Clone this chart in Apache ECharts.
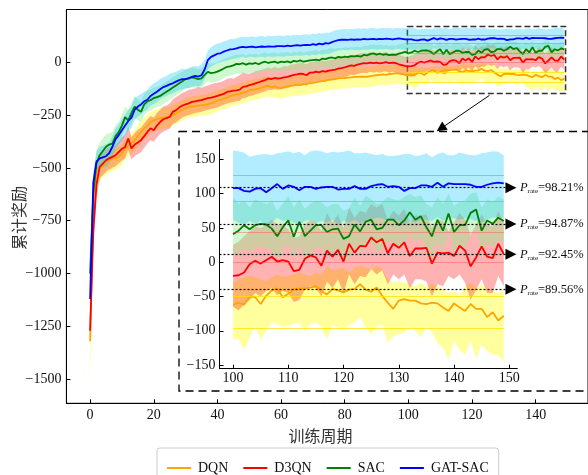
<!DOCTYPE html>
<html>
<head>
<meta charset="utf-8">
<script src="https://cdn.jsdelivr.net/npm/echarts@6/dist/echarts.min.js"></script>
<style>
  html, body { margin: 0; padding: 0; background: #fff; }
  #chart { width: 588px; height: 475px; }
</style>
</head>
<body>
<div id="chart"></div>
<script>
// Cumulative reward per training episode (episodes 0..149), mean and band edges.
const seriesNames = ['DQN', 'D3QN', 'SAC', 'GAT-SAC'];

const dqnMean = [-1320,-680,-520,-502,-490,-470,-464,-458,-452,-448,
-430,-408,-395,-380,-369,-350,-330,-313,-300,-283,
-275,-270,-265,-262,-260,-259,-250,-242,-235,-225,
-218,-211,-210,-208,-206,-204,-202,-200,-195,-190,
-180,-178,-172,-168,-160,-156,-152,-150,-145,-140,
-133,-130,-128,-125,-120,-115,-112,-118,-115,-120,
-123,-118,-115,-112,-110,-108,-109,-105,-102,-100,
-98,-96,-92,-90,-88,-84,-82,-80,-77,-76,
-75,-73,-72,-70,-70,-69,-68,-70,-66,-64,
-62,-60,-58,-60,-56,-55,-52,-54,-56,-60,
-62,-59,-62,-50,-51,-61,-49,-41,-38,-51,
-46,-39,-38,-38,-37,-35,-42,-47,-39,-41,
-44,-40,-39,-32,-40,-43,-37,-49,-59,-68,
-56,-54,-56,-56,-60,-61,-59,-60,-66,-71,
-60,-66,-71,-61,-68,-68,-80,-73,-85,-78];
const dqnHigh = [-1250,-620,-470,-455,-445,-428,-420,-412,-405,-400,
-385,-365,-350,-335,-322,-300,-280,-265,-250,-235,
-228,-222,-218,-215,-212,-210,-200,-195,-188,-178,
-170,-165,-162,-160,-158,-155,-152,-150,-146,-140,
-132,-128,-125,-120,-112,-108,-105,-100,-96,-92,
-86,-82,-80,-78,-72,-68,-65,-70,-68,-72,
-75,-70,-68,-65,-62,-60,-62,-58,-55,-52,
-50,-48,-45,-42,-40,-36,-35,-32,-30,-28,
-28,-25,-25,-22,-22,-20,-20,-22,-18,-16,
-15,-14,-12,-14,-12,-14,-10,-12,-15,-20,
-30,-25,-22,-20,-22,-25,-28,-22,-18,-22,
-20,-18,-15,-18,-20,-15,-18,-5,-12,-10,
-8,-15,-8,-5,-8,-10,-5,-10,-25,-30,
-28,-30,-32,-35,-30,-35,-32,-35,-40,-45,
-42,-48,-35,-30,-38,-32,-40,-42,-45,-40];
const dqnLow = [-1534,-760,-580,-560,-548,-530,-522,-515,-508,-502,
-485,-462,-448,-432,-420,-402,-382,-365,-352,-335,
-328,-322,-318,-315,-312,-310,-300,-292,-285,-275,
-268,-262,-260,-258,-256,-254,-252,-250,-245,-240,
-230,-228,-222,-218,-210,-206,-202,-200,-195,-190,
-183,-180,-178,-175,-170,-165,-162,-168,-165,-170,
-173,-168,-165,-162,-160,-158,-159,-155,-152,-150,
-148,-146,-142,-140,-138,-134,-132,-130,-127,-126,
-125,-123,-122,-120,-120,-119,-118,-120,-116,-114,
-112,-110,-108,-110,-106,-105,-102,-104,-106,-110,
-112,-112,-128,-110,-94,-113,-100,-88,-90,-95,
-92,-90,-88,-100,-90,-88,-95,-112,-92,-95,
-98,-92,-88,-80,-95,-105,-95,-90,-118,-108,
-105,-102,-95,-100,-110,-95,-102,-118,-125,-142,
-115,-128,-135,-115,-140,-120,-130,-135,-136,-144];

const d3qnMean = [-1270,-800,-580,-495,-480,-464,-455,-448,-440,-425,
-410,-401,-361,-408,-390,-380,-369,-350,-330,-313,
-322,-300,-283,-270,-265,-259,-235,-227,-215,-205,
-200,-195,-188,-185,-182,-180,-175,-170,-168,-164,
-160,-155,-150,-141,-138,-135,-133,-130,-117,-115,
-109,-105,-100,-95,-90,-85,-77,-80,-75,-78,
-76,-72,-70,-65,-60,-58,-54,-56,-62,-50,
-50,-45,-48,-42,-45,-40,-38,-35,-30,-28,
-25,-20,-15,-18,-12,-8,-5,-6,-2,-5,
-2,-6,-3,0,-5,-2,-4,-10,-14,-18,
-20,-19,-15,-3,2,-2,3,8,1,3,
1,-13,-11,5,10,7,-5,17,8,18,
1,27,14,24,23,36,29,34,13,27,
21,29,9,20,20,21,-2,14,13,14,
9,24,17,-6,7,23,8,6,27,12];
const d3qnHigh = [-1200,-720,-510,-440,-425,-410,-400,-395,-390,-375,
-355,-345,-305,-355,-335,-320,-310,-290,-270,-255,
-262,-240,-225,-210,-205,-195,-175,-165,-155,-145,
-140,-130,-128,-125,-118,-122,-115,-110,-105,-100,
-98,-95,-88,-80,-75,-78,-70,-62,-48,-55,
-55,-50,-42,-40,-35,-30,-25,-30,-22,-28,
-25,-18,-20,-12,-10,-8,-2,-5,-10,0,
0,5,2,8,5,10,12,15,20,22,
25,30,35,30,38,42,45,42,48,45,
45,40,44,48,40,44,42,36,30,25,
25,30,38,45,52,50,55,62,55,55,
48,35,38,55,62,58,45,72,58,70,
50,80,65,75,72,85,80,85,62,75,
68,78,58,68,68,70,50,62,60,45,
58,72,62,40,55,70,55,52,75,58];
const d3qnLow = [-1330,-880,-650,-550,-535,-518,-508,-500,-492,-478,
-465,-455,-415,-460,-445,-435,-425,-405,-385,-368,
-378,-355,-340,-328,-322,-315,-292,-285,-272,-262,
-255,-250,-245,-240,-238,-235,-230,-225,-222,-218,
-215,-208,-202,-195,-192,-188,-185,-182,-170,-168,
-160,-158,-152,-148,-142,-138,-130,-132,-128,-130,
-128,-125,-122,-118,-112,-110,-106,-108,-112,-100,
-98,-92,-95,-88,-92,-85,-82,-80,-76,-72,
-70,-65,-60,-62,-56,-52,-50,-52,-46,-50,
-46,-50,-46,-44,-50,-46,-48,-55,-58,-62,
-65,-70,-62,-55,-45,-50,-42,-38,-48,-42,
-45,-58,-55,-40,-35,-38,-50,-28,-38,-25,
-45,-18,-32,-20,-22,-10,-18,-12,-32,-18,
-25,-18,-38,-25,-25,-28,-50,-32,-35,-20,
-25,-18,-30,-55,-40,-25,-45,-45,-20,-35];

const sacMean = [-1000,-620,-480,-440,-420,-400,-390,-385,-350,-330,
-300,-260,-275,-240,-211,-225,-235,-200,-185,-180,
-170,-165,-160,-150,-140,-130,-120,-110,-100,-90,
-80,-78,-72,-76,-80,-77,-60,-46,-52,-50,
-45,-38,-30,-22,-20,-15,-8,-10,-5,-12,
-6,-8,-4,-10,-2,2,-4,0,2,-3,
2,0,4,-2,6,3,8,2,5,8,
10,12,8,17,14,20,22,18,25,22,
26,24,28,27,30,26,34,32,38,41,
36,40,35,38,33,36,34,40,44,49,
41,46,54,48,54,56,55,49,38,51,
61,37,59,38,46,54,54,44,48,49,
34,38,55,45,59,62,48,50,62,62,
54,61,73,62,67,51,38,62,46,71,
44,54,54,72,77,46,61,56,65,60];
const sacHigh = [-900,-560,-420,-380,-360,-340,-335,-330,-300,-280,
-250,-210,-225,-190,-160,-175,-185,-150,-135,-130,
-120,-118,-112,-100,-92,-82,-72,-62,-52,-45,
-35,-32,-25,-30,-35,-30,-15,-2,-8,-5,
0,8,15,22,25,30,36,34,40,32,
40,36,42,34,42,46,40,45,46,40,
46,44,48,42,50,46,52,46,48,52,
54,56,52,60,58,64,66,62,68,65,
70,68,72,70,74,70,78,75,82,85,
80,84,78,82,76,80,78,84,88,92,
95,85,90,80,92,88,85,90,75,85,
97,80,92,78,85,90,88,80,85,85,
75,78,95,82,97,92,85,88,95,92,
90,95,100,95,98,85,80,95,85,100,
82,88,90,100,102,80,92,88,95,92];
const sacLow = [-1080,-680,-540,-500,-480,-460,-445,-440,-400,-380,
-350,-310,-325,-290,-262,-275,-285,-250,-235,-230,
-220,-212,-208,-198,-188,-178,-168,-158,-148,-138,
-125,-122,-118,-122,-125,-122,-105,-92,-98,-95,
-90,-84,-75,-66,-64,-60,-52,-55,-50,-55,
-50,-52,-48,-54,-46,-42,-48,-44,-42,-46,
-42,-44,-40,-46,-38,-42,-36,-42,-40,-36,
-34,-32,-36,-28,-30,-24,-22,-26,-18,-22,
-18,-20,-16,-18,-14,-18,-10,-12,-6,-2,
-8,-4,-10,-6,-12,-8,-10,-4,0,5,
10,12,20,15,20,22,22,15,5,18,
28,5,25,5,12,20,22,10,15,15,
2,5,22,12,26,30,15,18,30,30,
20,28,40,30,35,18,5,30,12,48,
10,20,22,40,45,12,28,22,32,28];

const gatsacMean = [-1120,-570,-470,-455,-450,-445,-430,-400,-365,-345,
-322,-300,-278,-262,-225,-210,-200,-185,-178,-160,
-150,-140,-128,-118,-112,-105,-100,-92,-85,-80,
-80,-75,-70,-65,-68,-62,-35,10,25,32,
40,42,50,55,60,62,65,70,72,70,
72,73,70,72,74,72,75,73,74,76,
76,75,78,76,78,80,78,80,82,80,
85,82,88,84,90,88,95,100,104,106,
107,105,108,106,108,107,110,108,109,110,
108,110,109,111,110,108,110,112,110,108,
108,108,104,103,107,108,102,108,114,107,
112,110,105,110,110,107,109,110,110,106,
107,107,111,107,107,111,113,114,110,111,
110,104,108,108,112,112,110,116,110,115,
114,114,114,113,110,110,113,115,116,115];
const gatsacHigh = [-1050,-520,-420,-400,-395,-390,-380,-350,-315,-295,
-270,-250,-225,-210,-170,-160,-150,-140,-130,-112,
-100,-92,-80,-72,-65,-55,-50,-45,-38,-30,
-35,-28,-22,-18,-20,-10,10,55,70,80,
88,92,98,102,110,108,112,118,120,118,
120,122,118,122,124,120,125,122,124,126,
125,124,128,125,128,130,127,131,132,130,
135,132,138,134,140,138,145,150,153,156,
157,155,158,156,160,157,160,158,160,162,
158,160,162,160,161,158,162,163,160,162,
163,162,160,154,156,157,158,156,159,160,
162,159,161,156,162,163,162,159,161,160,
161,163,159,159,160,158,156,158,155,155,
156,158,158,155,156,159,153,158,160,156,
156,160,158,156,156,159,160,162,161,156];
const gatsacLow = [-1190,-620,-520,-505,-500,-495,-480,-450,-410,-390,
-370,-350,-325,-310,-275,-258,-248,-232,-225,-205,
-198,-188,-175,-165,-160,-152,-148,-140,-132,-128,
-125,-122,-118,-112,-115,-108,-80,-35,-20,-12,
-5,0,5,8,12,15,18,22,25,20,
25,24,22,25,26,22,28,24,26,28,
27,26,30,28,30,32,30,32,34,30,
36,32,38,35,40,38,45,50,55,56,
58,55,60,56,58,57,60,58,60,62,
58,62,60,62,60,58,62,63,60,58,
62,58,55,60,56,60,52,58,65,60,
62,58,55,60,62,57,60,58,62,55,
60,58,62,57,60,62,65,64,60,62,
60,55,60,58,62,62,60,66,60,65,
64,62,64,63,60,58,62,65,66,64];

// Reference levels and success rates shown in the zoomed panel
const rateLevels = [-39.5, 11.5, 55.7, 108.7];
const rateLabels = ['89.56%', '92.45%', '94.87%', '98.21%'];
// Thin guide levels inside the bands (episodes 100..149)
const guideLevels = [[-49.3, -96.5], [44, 0], [], [126.8, 89.3]];

// Axis ticks
const mainXTicks = [0, 20, 40, 60, 80, 100, 120, 140];
const mainYTicks = [-1500, -1250, -1000, -750, -500, -250, 0];
const insetXTicks = [100, 110, 120, 130, 140, 150];
const insetYTicks = [-150, -100, -50, 0, 50, 100, 150];

const lineColors = ['#FFA500', '#FF0000', '#008000', '#0000FF'];
const bandColors = ['rgba(255,255,0,0.38)', 'rgba(255,0,0,0.3)', 'rgba(144,238,144,0.42)', 'rgba(0,191,255,0.3)'];
const guideColors = ['rgba(255,225,0,0.75)', 'rgba(255,80,80,0.45)', 'rgba(0,160,0,0.3)', 'rgba(100,190,250,0.8)'];

const means = [dqnMean, d3qnMean, sacMean, gatsacMean];
const lows = [dqnLow, d3qnLow, sacLow, gatsacLow];
const highs = [dqnHigh, d3qnHigh, sacHigh, gatsacHigh];

const SERIF = "'Liberation Serif', 'DejaVu Serif', serif";
const CJK = "'Noto Sans CJK SC', sans-serif";

function pts(values, from, to) {
  return values.slice(from, to).map((v, k) => [from + k, v]);
}
const minus = v => String(v).replace('-', '\u2212');

// One filled polygon per band: upper edge left-to-right, lower edge back.
function bandRenderer(low, high, from, to, color) {
  return function (params, api) {
    if (params.dataIndex !== 0) return null;
    const top = [], bottom = [];
    for (let x = from; x < to; x++) {
      top.push(api.coord([x, high[x]]));
      bottom.push(api.coord([x, low[x]]));
    }
    return {
      type: 'polygon', silent: true,
      shape: { points: top.concat(bottom.reverse()) },
      style: { fill: color, stroke: null }
    };
  };
}

function guideLine(y, color) {
  return [
    { coord: [100, y], symbol: 'none', lineStyle: { color: color, width: 1, type: 'solid' }, label: { show: false } },
    { coord: [149, y], symbol: 'none' }
  ];
}

const series = [];
const panels = [{ from: 0, to: 150 }, { from: 100, to: 150 }];

panels.forEach((p, g) => {
  seriesNames.forEach((name, i) => {
    series.push({
      name: name + ' band', type: 'custom', xAxisIndex: g, yAxisIndex: g,
      data: lows[i].slice(p.from, p.to).map((v, k) => [p.from + k, v, highs[i][p.from + k]]),
      encode: { x: 0, y: [1, 2] },
      renderItem: bandRenderer(lows[i], highs[i], p.from, p.to, bandColors[i]),
      silent: true, z: 1
    });
  });
  seriesNames.forEach((name, i) => {
    const marks = guideLevels[i].map(y => guideLine(y, guideColors[i]));
    if (g === 1) {
      marks.push([
        {
          coord: [97.55, rateLevels[i]], symbol: 'none',
          lineStyle: { color: '#000', width: 1.2, type: [2, 2] },
          label: {
            show: true, position: 'end', distance: 9,
            formatter: '{p|P}{s|rate}{v|=' + rateLabels[i] + '}',
            rich: {
              p: { fontFamily: SERIF, fontStyle: 'italic', fontSize: 12.5, color: '#111' },
              s: { fontFamily: SERIF, fontSize: 7, color: '#111', padding: [7, 0, 0, 0] },
              v: { fontFamily: SERIF, fontSize: 12.5, color: '#111' }
            }
          }
        },
        { coord: [150.3, rateLevels[i]], symbol: 'triangle', symbolSize: 11 }
      ]);
    }
    const s = {
      name: name, type: 'line', xAxisIndex: g, yAxisIndex: g,
      data: pts(means[i], p.from, p.to), symbol: 'none', z: 3,
      lineStyle: { color: lineColors[i], width: 1.8 }, itemStyle: { color: lineColors[i] },
      clip: false
    };
    if (g === 0 && i === 3) {
      s.markArea = {
        silent: true,
        itemStyle: { color: 'rgba(0,0,0,0)', borderColor: '#333', borderWidth: 1.5, borderType: [6, 3] },
        data: [[{ coord: [99.7, 169] }, { coord: [149.4, -148] }]]
      };
      marks.push([
        { coord: [125.5, -157], symbol: 'none', lineStyle: { color: '#000', width: 1, type: 'solid' }, label: { show: false } },
        { coord: [110.2, -314], symbol: 'triangle', symbolSize: 10 }
      ]);
    }
    if (marks.length) {
      s.markLine = { silent: true, symbol: 'none', label: { show: false }, data: marks };
    }
    series.push(s);
  });
});

const chart = echarts.init(document.getElementById('chart'), null, { renderer: 'canvas' });
chart.setOption({
  animation: false,
  backgroundColor: '#fff',
  grid: [
    { left: 66.4, top: 9.5, width: 530.4, height: 393.8, show: true, borderColor: '#000', borderWidth: 1, containLabel: false },
    { left: 219.5, top: 139.5, width: 297.8, height: 229.2, show: false, containLabel: false }
  ],
  xAxis: [
    {
      type: 'value', gridIndex: 0, min: -7.45, max: 156.45,
      axisLine: { onZero: false, lineStyle: { color: '#000', width: 1 } },
      axisTick: { inside: true, length: 4, lineStyle: { color: '#000' }, customValues: mainXTicks },
      axisLabel: { customValues: mainXTicks, margin: 5, fontFamily: SERIF, fontSize: 14, color: '#111', formatter: minus },
      splitLine: { show: false }
    },
    {
      type: 'value', gridIndex: 1, min: 97.55, max: 151.45,
      axisLine: { onZero: false, lineStyle: { color: '#000', width: 1 } },
      axisTick: { inside: true, length: 4, lineStyle: { color: '#000' }, customValues: insetXTicks },
      axisLabel: { customValues: insetXTicks, margin: 3, fontFamily: SERIF, fontSize: 14, color: '#111', formatter: minus },
      splitLine: { show: false }
    }
  ],
  yAxis: [
    {
      type: 'value', gridIndex: 0, min: -1613.5, max: 249,
      axisLine: { show: true, onZero: false, lineStyle: { color: '#000', width: 1 } },
      axisTick: { show: true, inside: true, length: 4, lineStyle: { color: '#000' }, customValues: mainYTicks },
      axisLabel: { customValues: mainYTicks, margin: 5, fontFamily: SERIF, fontSize: 14, color: '#111', formatter: minus },
      splitLine: { show: false }
    },
    {
      type: 'value', gridIndex: 1, min: -155.3, max: 179,
      axisLine: { show: true, onZero: false, lineStyle: { color: '#000', width: 1 } },
      axisTick: { show: true, inside: true, length: 4, lineStyle: { color: '#000' }, customValues: insetYTicks },
      axisLabel: { customValues: insetYTicks, margin: 4, fontFamily: SERIF, fontSize: 14, color: '#111', formatter: minus },
      splitLine: { show: false }
    }
  ],
  legend: {
    data: seriesNames,
    left: 157, top: 448,
    padding: [13, 10, 13, 10],
    icon: 'rect', itemWidth: 24, itemHeight: 2, itemGap: 15,
    borderColor: '#cccccc', borderWidth: 1, borderRadius: 3, backgroundColor: '#fff',
    textStyle: { fontFamily: SERIF, fontSize: 14, color: '#111', padding: [0, 0, 0, 2] }
  },
  graphic: [
    {
      type: 'rect', silent: true, z: -1,
      shape: { x: 179, y: 131.5, width: 430, height: 259.5 },
      style: { fill: 'none', stroke: '#000', lineWidth: 1.3, lineDash: [8, 5] }
    },
    {
      type: 'text', silent: true, x: 19, y: 218, rotation: Math.PI / 2,
      style: { text: '累计奖励', fontFamily: CJK, fontSize: 16, fill: '#333', align: 'center', verticalAlign: 'middle' }
    },
    {
      type: 'text', silent: true, x: 320.5, y: 436,
      style: { text: '训练周期', fontFamily: CJK, fontSize: 16, fill: '#333', align: 'center', verticalAlign: 'middle' }
    }
  ],
  series: series
});
</script>
</body>
</html>
